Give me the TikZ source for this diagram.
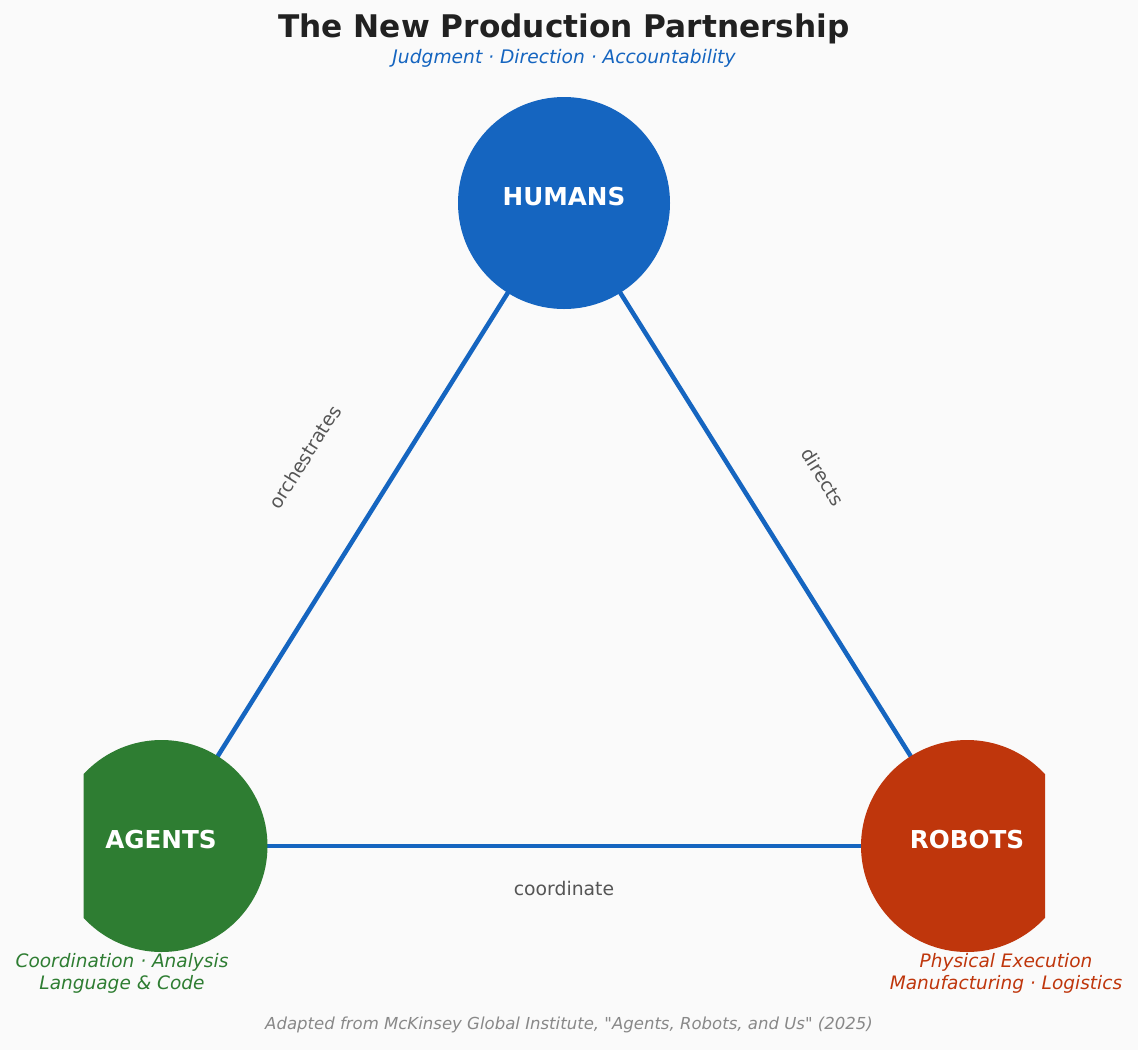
\documentclass[tikz,border=0pt]{standalone}
\usepackage{fontspec}
\setmainfont{DejaVu Sans}
\newfontfamily\footfont{DejaVu Sans}
\definecolor{bgc}{HTML}{FAFAFA}
\definecolor{hblue}{HTML}{1565C0}
\definecolor{agreen}{HTML}{2E7D32}
\definecolor{rred}{HTML}{BF360C}
\definecolor{titlec}{HTML}{212121}
\definecolor{lblc}{HTML}{555555}
\definecolor{footc}{HTML}{888888}
\tikzset{
  hub/.style={circle, minimum size=159pt, inner sep=0pt, draw=none},
  hubtext/.style={text=white, font=\fontsize{18.5}{22}\selectfont\bfseries, inner sep=0pt},
  link/.style={draw=hblue, line width=3.4pt},
  linklbl/.style={text=lblc, font=\fontsize{14.1}{16}\selectfont, inner sep=0pt},
  capt/.style={font=\fontsize{13.9}{16.5}\selectfont\itshape, align=center, inner sep=0pt},
}
\begin{document}
\begin{tikzpicture}[x=0.75pt,y=-0.75pt]
\fill[bgc] (0,0) rectangle (1138,1050);
\useasboundingbox (0,0) rectangle (1138,1050);
\coordinate (H) at (564,203);
\coordinate (A) at (161.5,846);
\coordinate (R) at (967,846);
% connectors
\draw[link] (H) -- (A);
\draw[link] (H) -- (R);
\draw[link] (A) -- (R);
% circles, clipped to the plot region
\begin{scope}
\clip (83.5,0) rectangle (1045,1050);
\node[hub, fill=hblue] (humans) at (H) {};
\node[hub, fill=agreen] (agents) at (A) {};
\node[hub, fill=rred] (robots) at (R) {};
\end{scope}
\node[hubtext] (humansT) at (564,197) {HUMANS};
\node[hubtext] (agentsT) at (161,840) {AGENTS};
\node[hubtext] (robotsT) at (967,840) {ROBOTS};
% edge labels
\node[linklbl, rotate=57.9] (orch) at (305,457) {orchestrates};
\node[linklbl, rotate=-57.9] (dir) at (823,477) {directs};
\node[linklbl] (coord) at (564,888) {coordinate};
% captions
\node[capt, text=agreen] (agcap) at (122,973) {Coordination · Analysis\\Language \& Code};
\node[capt, text=rred] (robcap) at (1006,973) {Physical Execution\\Manufacturing · Logistics};
% title
\node[text=titlec, font=\fontsize{23.4}{28}\selectfont\bfseries, inner sep=0pt] (title) at (564,29) {The New Production Partnership};
\node[text=hblue, font=\fontsize{14}{16}\selectfont\itshape, inner sep=0pt] (sub) at (564,58) {Judgment · Direction · Accountability};
\node[text=footc, font=\footfont\fontsize{12.4}{14}\selectfont\itshape, inner sep=0pt] (foot) at (569,1025) {Adapted from McKinsey Global Institute, "Agents, Robots, and Us" (2025)};
\end{tikzpicture}
\end{document}
